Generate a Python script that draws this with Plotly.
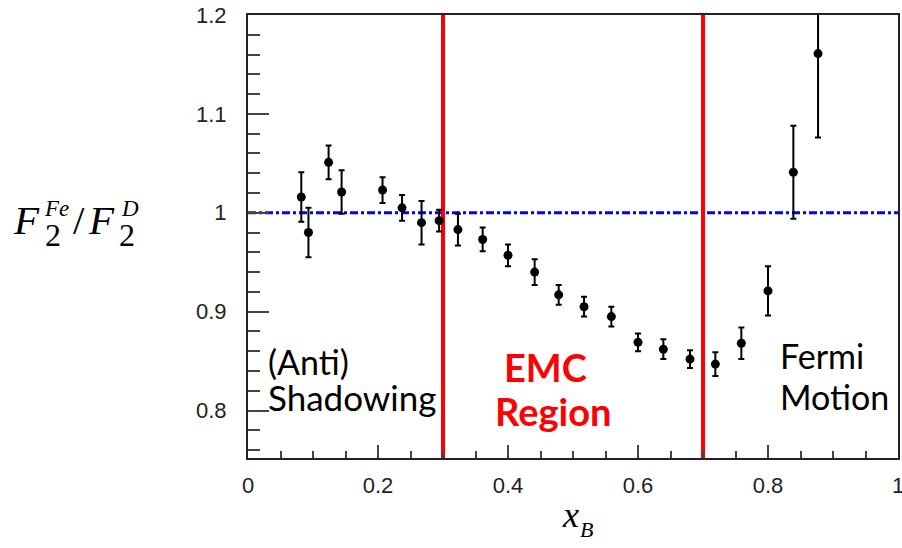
import plotly.graph_objects as go

# ---- data ----
x_vals = [0.082, 0.093, 0.124, 0.144, 0.207, 0.237, 0.267, 0.294, 0.323, 0.361, 0.400, 0.441,
          0.478, 0.517, 0.559, 0.600, 0.639, 0.680, 0.719, 0.759, 0.800, 0.839, 0.877]
ratio_vals = [1.016, 0.980, 1.051, 1.021, 1.023, 1.005, 0.990, 0.992, 0.983, 0.973, 0.957, 0.940,
              0.917, 0.905, 0.895, 0.869, 0.862, 0.852, 0.847, 0.868, 0.921, 1.041, 1.161]
err_vals = [0.025, 0.025, 0.017, 0.022, 0.013, 0.013, 0.022, 0.011, 0.016, 0.012, 0.011, 0.013,
            0.010, 0.010, 0.010, 0.009, 0.010, 0.009, 0.012, 0.016, 0.025, 0.047, 0.085]
region_bounds = [0.3, 0.7]
unity = 1.0
x_ticks = [0, 0.2, 0.4, 0.6, 0.8, 1]
y_ticks = [0.8, 0.9, 1.0, 1.1, 1.2]

W, H = 902, 548
L, R, T, B = 247.5, 898.5, 15, 457.7


def px_x(p):
    return (p - L) / (R - L)


def px_y(p):
    return (B - p) / (B - T)


fig = go.Figure()

fig.add_trace(go.Scatter(
    x=x_vals, y=ratio_vals, mode="markers",
    marker=dict(color="black", size=9),
    error_y=dict(type="data", array=err_vals, visible=True, color="black", thickness=2, width=3),
    showlegend=False, hoverinfo="skip", cliponaxis=True,
))

shapes = [dict(type="line", xref="paper", yref="y", x0=0, x1=1, y0=unity, y1=unity,
               line=dict(color="#0000ff", width=3, dash="8px,3px,3px,3px"), layer="below")]
for b in region_bounds:
    shapes.append(dict(type="line", xref="x", yref="paper", x0=b, x1=b, y0=0, y1=1,
                       line=dict(color="#ff0000", width=4), layer="below"))

SERIF = "Liberation Serif"
SANS = "Lato"


def ann(text, left_px, base_px, size, family, color="black", anchor="left", bold=False, asc=0.387):
    mid = base_px - asc * size
    t = f"<b>{text}</b>" if bold else text
    return dict(text=t, x=px_x(left_px), y=px_y(mid), xref="paper", yref="paper",
                xanchor=anchor, yanchor="middle", showarrow=False,
                font=dict(family=family, size=size, color=color))


SA = 0.3375  # serif centre offset
annotations = [
    # y-axis label  F_2^Fe / F_2^D
    ann("<i>F</i>", 10, 234, 41, SERIF, asc=SA),
    ann("<i>Fe</i>", 41, 216, 23, SERIF, asc=SA),
    ann("2", 42, 246, 32, SERIF, asc=SA),
    ann("/", 70, 234, 41, SERIF, asc=SA),
    ann("<i>F</i>", 85, 234, 41, SERIF, asc=SA),
    ann("<i>D</i>", 118, 216, 23, SERIF, asc=SA),
    ann("2", 116, 246, 32, SERIF, asc=SA),
    # x-axis label x_B
    ann("<i>x</i>", 560, 527, 36, SERIF, asc=SA),
    ann("<i>B</i>", 578, 537, 22, SERIF, asc=SA),
    # region texts
    ann("(Anti)", 266, 374, 34, SANS),
    ann("Shadowing", 266, 410, 35, SANS),
    ann("EMC", 545, 381, 38, SANS, color="#ff0000", anchor="center", bold=True),
    ann("Region", 553, 425, 38, SANS, color="#ff0000", anchor="center", bold=True),
    ann("Fermi", 778, 368, 34, SANS),
    ann("Motion", 778, 409, 34, SANS),
]

tickfont = dict(family="Liberation Sans", size=22, color="#222")

fig.update_layout(
    width=W, height=H,
    margin=dict(l=L, r=W - R, t=T, b=H - B, pad=0, autoexpand=False),
    plot_bgcolor="white", paper_bgcolor="white",
    shapes=shapes, annotations=annotations,
    xaxis=dict(range=[0, 1], tickvals=x_ticks, ticks="inside", ticklen=13, tickwidth=1.5,
               tickcolor="#444", showgrid=False, zeroline=False, showline=True, mirror=True,
               linecolor="#222", linewidth=2, tickfont=tickfont, ticklabelstandoff=7,
               automargin=False, ticklabeloverflow="allow",
               minor=dict(ticks="inside", dtick=0.05, ticklen=7, tickwidth=1.5, tickcolor="#444")),
    yaxis=dict(range=[0.752, 1.2], tickvals=y_ticks, ticktext=["0.8", "0.9", "1", "1.1", "1.2"],
               ticks="inside", ticklen=21, tickwidth=1.5,
               tickcolor="#444", showgrid=False, zeroline=False, showline=True, mirror=True,
               linecolor="#222", linewidth=2, tickfont=tickfont, ticklabelstandoff=15,
               automargin=False, ticklabeloverflow="allow",
               minor=dict(ticks="inside", dtick=0.02, tick0=0.8, ticklen=12, tickwidth=1.5,
                          tickcolor="#444")),
)

fig.write_html("out.html", config={"displayModeBar": False},
               post_script="document.body.style.margin='0';")
